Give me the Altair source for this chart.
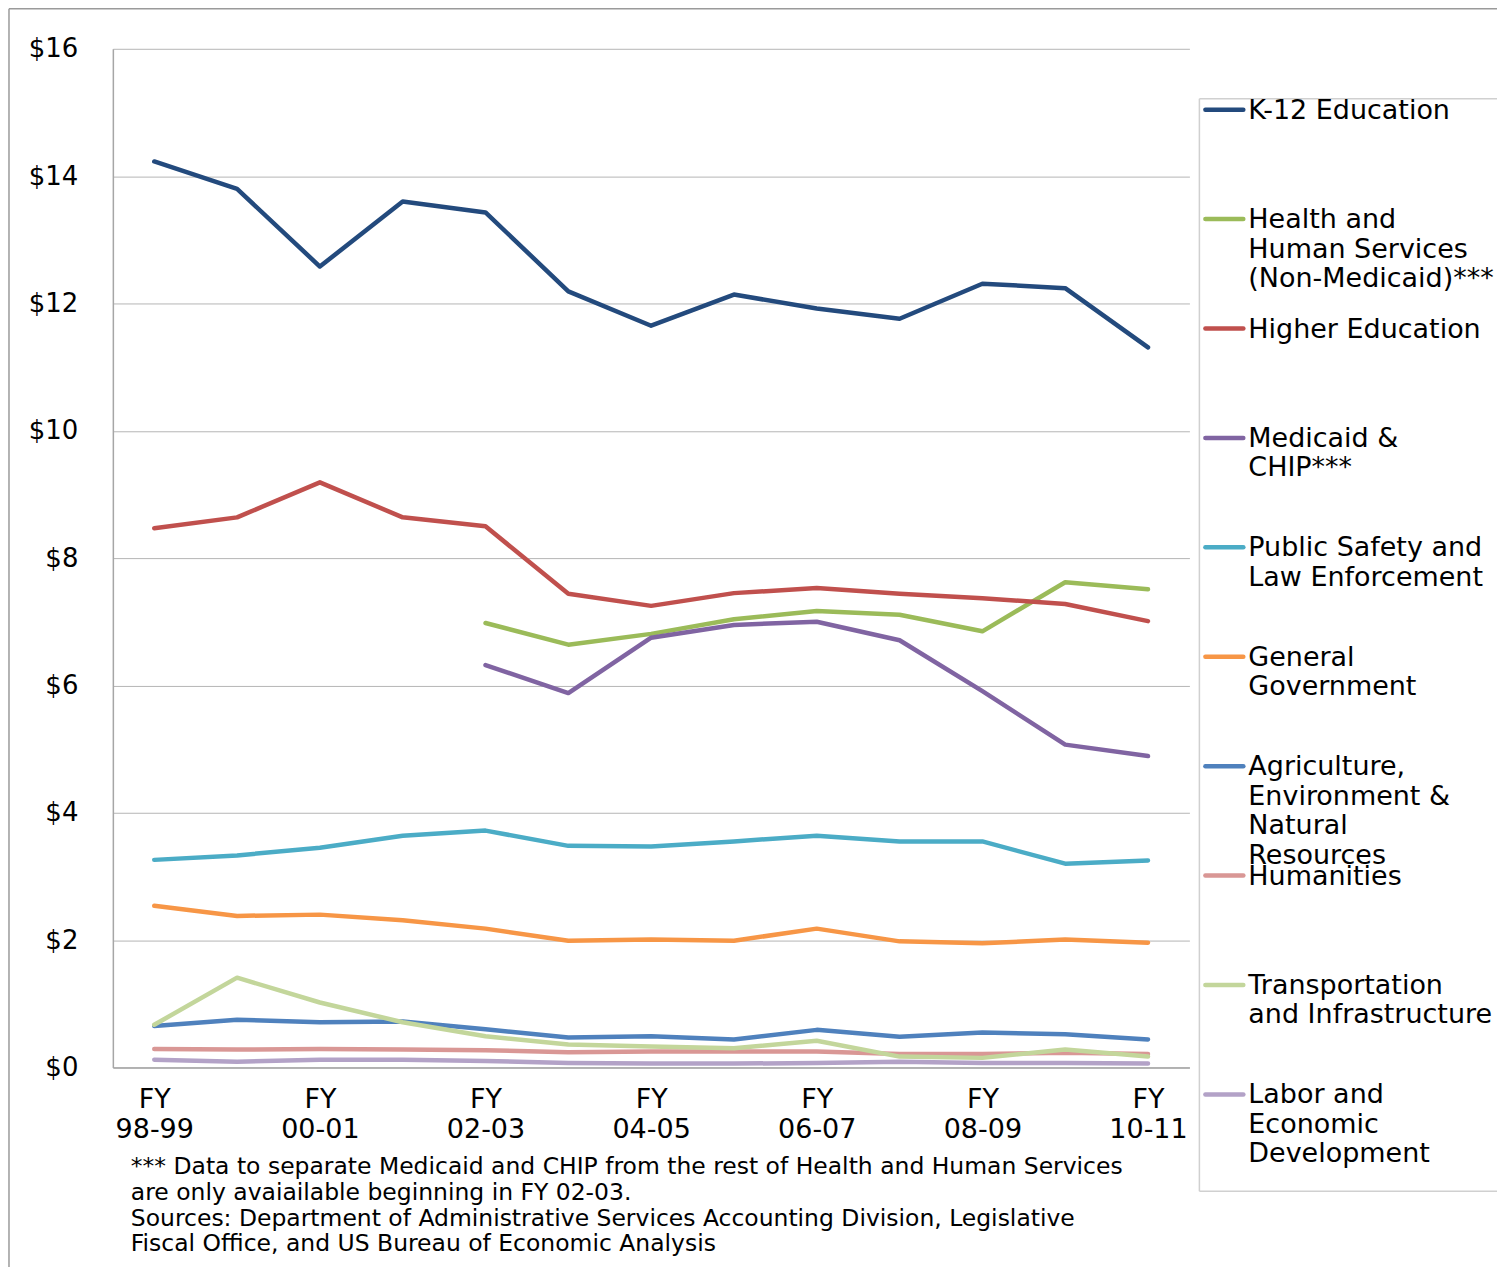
import altair as alt
import pandas as pd

# Fiscal years on the x axis
years = ["FY 98-99", "FY 99-00", "FY 00-01", "FY 01-02", "FY 02-03", "FY 03-04",
         "FY 04-05", "FY 05-06", "FY 06-07", "FY 07-08", "FY 08-09", "FY 09-10",
         "FY 10-11"]

# Spending per $1,000 of personal income, by program area (None = not available)
k12 = [14.23, 13.80, 12.58, 13.60, 13.43, 12.19, 11.65, 12.14, 11.92, 11.76, 12.31, 12.24, 11.31]
hhs_non_medicaid = [None, None, None, None, 6.98, 6.64, 6.81, 7.04, 7.17, 7.11, 6.85, 7.62, 7.51]
higher_ed = [8.47, 8.64, 9.19, 8.64, 8.50, 7.44, 7.25, 7.45, 7.53, 7.44, 7.37, 7.28, 7.01]
medicaid_chip = [None, None, None, None, 6.32, 5.88, 6.75, 6.95, 7.00, 6.71, 5.91, 5.07, 4.89]
public_safety = [3.26, 3.33, 3.45, 3.64, 3.72, 3.48, 3.47, 3.55, 3.64, 3.55, 3.55, 3.20, 3.25]
general_gov = [2.54, 2.38, 2.40, 2.31, 2.18, 1.99, 2.01, 1.99, 2.18, 1.98, 1.95, 2.01, 1.96]
agriculture = [0.65, 0.75, 0.71, 0.72, 0.60, 0.47, 0.49, 0.44, 0.59, 0.48, 0.55, 0.52, 0.44]
humanities = [0.29, 0.28, 0.29, 0.28, 0.27, 0.24, 0.25, 0.25, 0.25, 0.21, 0.21, 0.23, 0.21]
transportation = [0.67, 1.41, 1.02, 0.71, 0.49, 0.36, 0.33, 0.30, 0.42, 0.17, 0.15, 0.28, 0.17]
labor = [0.12, 0.09, 0.12, 0.12, 0.10, 0.07, 0.06, 0.06, 0.07, 0.09, 0.07, 0.07, 0.06]

series_names = ["K-12 Education", "Health and Human Services (Non-Medicaid)***",
                "Higher Education", "Medicaid & CHIP***",
                "Public Safety and Law Enforcement", "General Government",
                "Agriculture, Environment & Natural Resources", "Humanities",
                "Transportation and Infrastructure", "Labor and Economic Development"]
legend_labels = ["K-12 Education", "Health and\nHuman Services\n(Non-Medicaid)***",
                 "Higher Education", "Medicaid &\nCHIP***",
                 "Public Safety and\nLaw Enforcement", "General\nGovernment",
                 "Agriculture,\nEnvironment &\nNatural\nResources", "Humanities",
                 "Transportation\nand Infrastructure", "Labor and\nEconomic\nDevelopment"]
series_values = [k12, hhs_non_medicaid, higher_ed, medicaid_chip, public_safety,
                 general_gov, agriculture, humanities, transportation, labor]
series_colors = ["#234A7D", "#9BBB59", "#C0504D", "#8064A2", "#4BACC6",
                 "#F79646", "#4F81BD", "#D99795", "#C3D69B", "#B3A2C7"]

footnote = ("*** Data to separate Medicaid and CHIP from the rest of Health and Human Services\n"
            "are only avaiailable beginning in FY 02-03.\n"
            "Sources: Department of Administrative Services Accounting Division, Legislative\n"
            "Fiscal Office, and US Bureau of Economic Analysis")

FONT = "DejaVu Sans"
W, H = 1078, 1020

rows = []
for name, vals in zip(series_names, series_values):
    for yr, v in zip(years, vals):
        if v is not None:
            rows.append({"series": name, "year": yr, "value": v})
df = pd.DataFrame(rows)

lines = alt.Chart(df).mark_line(strokeWidth=4.5, strokeCap="round", strokeJoin="round").encode(
    x=alt.X("year:N", sort=years, title=None,
            scale=alt.Scale(type="point", padding=0.5),
            axis=alt.Axis(values=years[::2], labelExpr="split(datum.label, ' ')",
                          labelAngle=0, labelFont=FONT, labelFontSize=27,
                          labelLineHeight=30, labelColor="#000000", labelPadding=19,
                          ticks=False, tickSize=0, domainColor="#A6A6A6",
                          domainWidth=1.5, grid=False)),
    y=alt.Y("value:Q", title=None,
            scale=alt.Scale(domain=[0, 16], nice=False),
            axis=alt.Axis(values=list(range(0, 17, 2)), labelExpr="'$' + datum.value",
                          labelFont=FONT, labelFontSize=26, labelColor="#000000",
                          labelPadding=35, ticks=False, tickSize=0,
                          domainColor="#A6A6A6", domainWidth=1.5,
                          gridColor="#B5B5B5", gridWidth=1)),
    color=alt.Color("series:N", sort=series_names,
                    scale=alt.Scale(domain=series_names, range=series_colors),
                    legend=None),
    detail="series:N",
)

# Hand-built legend on the right
leg_df = pd.DataFrame({"series": series_names, "label": legend_labels,
                       "idx": list(range(len(series_names)))})
leg_y = alt.Y("idx:Q", axis=None, scale=alt.Scale(domain=[0, 9], range=[61, 1047]))
leg_color = alt.Color("series:N", scale=alt.Scale(domain=series_names, range=series_colors),
                      legend=None)

one = pd.DataFrame({"a": [0]})
box_style = dict(color="#D0D0D0", strokeWidth=1.5)
leg_box_top = alt.Chart(one).mark_rule(**box_style).encode(
    x=alt.value(1088), x2=alt.value(1386), y=alt.value(50))
leg_box_bottom = alt.Chart(one).mark_rule(**box_style).encode(
    x=alt.value(1088), x2=alt.value(1386), y=alt.value(1144))
leg_box_left = alt.Chart(one).mark_rule(**box_style).encode(
    x=alt.value(1088), y=alt.value(50), y2=alt.value(1144))

leg_sym = alt.Chart(leg_df).mark_rule(strokeWidth=4.5, strokeCap="round").encode(
    x=alt.value(1094), x2=alt.value(1132), y=leg_y, color=leg_color)

leg_text = alt.Chart(leg_df).mark_text(
    align="left", baseline="top", lineBreak="\n", lineHeight=29.5,
    font=FONT, fontSize=27, color="#000000", dy=-12
).encode(x=alt.value(1137), y=leg_y, text="label:N")

note = alt.Chart(pd.DataFrame({"t": [footnote]})).mark_text(
    align="left", baseline="alphabetic", lineBreak="\n", lineHeight=25.7,
    font=FONT, fontSize=23.5, color="#000000"
).encode(x=alt.value(18), y=alt.value(1127), text="t:N")

# Outer frame (top and left edges)
frame_top = alt.Chart(one).mark_rule(color="#9A9A9A", strokeWidth=1.5).encode(
    x=alt.value(-104), x2=alt.value(1386), y=alt.value(-40))
frame_left = alt.Chart(one).mark_rule(color="#9A9A9A", strokeWidth=1.5).encode(
    x=alt.value(-104), y=alt.value(-40), y2=alt.value(1220))

chart = alt.layer(
    lines, leg_box_top, leg_box_bottom, leg_box_left, leg_sym, leg_text, note,
    frame_top, frame_left
).resolve_scale(
    y="independent", color="independent"
).properties(
    width=W, height=H,
    padding={"left": 8, "top": 7, "right": 0, "bottom": 0},
    background="#FFFFFF",
).configure_view(stroke=None)

chart.save("out.html", embed_options={"renderer": "svg", "actions": False})
